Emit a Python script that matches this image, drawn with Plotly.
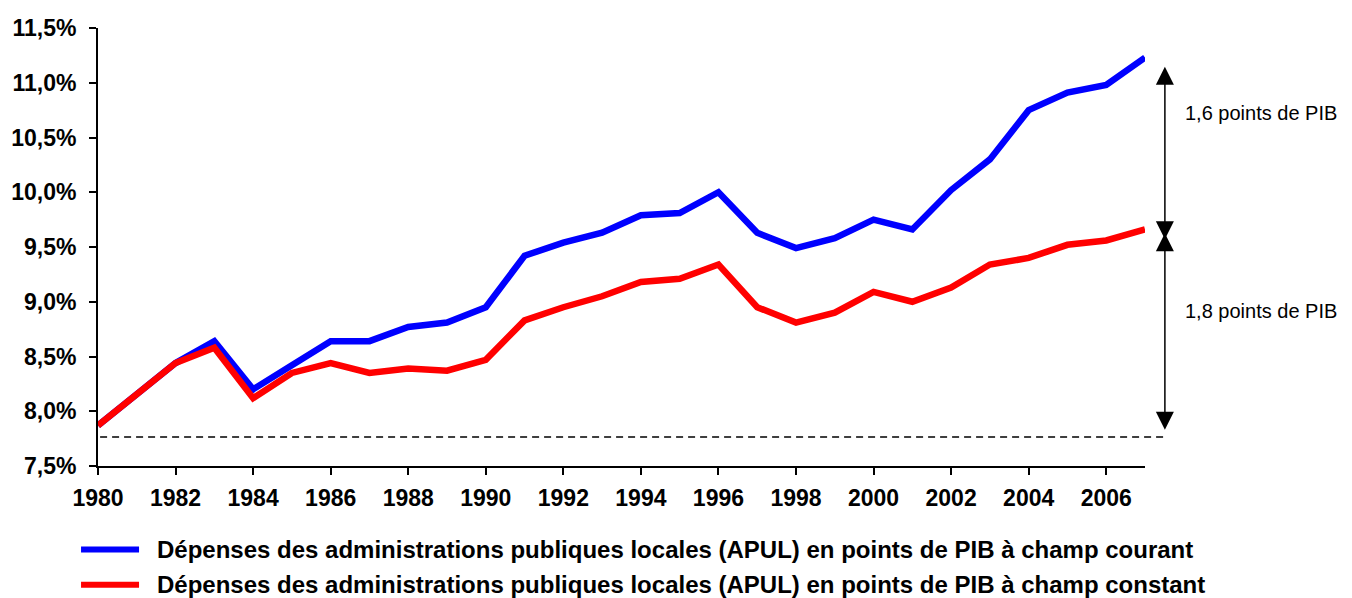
import plotly.graph_objects as go

years = list(range(1980, 2008))
courant = [7.87, 8.16, 8.44, 8.64, 8.20, 8.42, 8.64, 8.64, 8.77, 8.81,
           8.95, 9.42, 9.54, 9.63, 9.79, 9.81, 10.00, 9.63, 9.49, 9.58,
           9.75, 9.66, 10.02, 10.30, 10.75, 10.91, 10.98, 11.23]
constant = [7.87, 8.16, 8.44, 8.58, 8.12, 8.35, 8.44, 8.35, 8.39, 8.37,
            8.47, 8.83, 8.95, 9.05, 9.18, 9.21, 9.34, 8.95, 8.81, 8.90,
            9.09, 9.00, 9.13, 9.34, 9.40, 9.52, 9.56, 9.66]
series_names = [
    "Dépenses des administrations publiques locales (APUL) en points de PIB à champ courant",
    "Dépenses des administrations publiques locales (APUL) en points de PIB à champ constant",
]
series_colors = ["#0000FF", "#FF0000"]
x_ticks = list(range(1980, 2007, 2))
y_ticks = [7.5, 8.0, 8.5, 9.0, 9.5, 10.0, 10.5, 11.0, 11.5]
y_tick_text = ["7,5%", "8,0%", "8,5%", "9,0%", "9,5%", "10,0%", "10,5%", "11,0%", "11,5%"]
baseline = 7.765
gap_labels = ["1,6 points de PIB", "1,8 points de PIB"]
# arrow extents (y data values)
arrow_top = [11.16, 9.64]
arrow_bottom = [9.57, 7.83]
label_y = [10.72, 8.92]

FONT = "Liberation Sans, Arial, sans-serif"

fig = go.Figure()
for vals, name, col in zip([courant, constant], series_names, series_colors):
    fig.add_trace(go.Scatter(x=years, y=vals, mode="lines", name=name,
                             line=dict(color=col, width=6.5),
                             cliponaxis=False, showlegend=False))

# dashed reference line
fig.add_shape(type="line", xref="paper", yref="y", x0=0.002, x1=1.019,
              y0=baseline, y1=baseline,
              line=dict(color="black", width=1.5, dash="7px,5px"))

# double-headed arrows
for (ya, yb) in zip(arrow_top, arrow_bottom):
    fig.add_annotation(xref="paper", yref="y", x=1.019, y=yb,
                       axref="pixel", ayref="y", ax=0, ay=ya,
                       text="", showarrow=True, arrowhead=2, startarrowhead=2,
                       arrowside="end+start", arrowsize=2.4, startarrowsize=2.4,
                       arrowwidth=1.5, arrowcolor="black", standoff=0, startstandoff=0)

for txt, yy in zip(gap_labels, label_y):
    fig.add_annotation(xref="paper", yref="y", x=1.036, y=yy, text=txt,
                       showarrow=False, xanchor="left", yanchor="middle",
                       font=dict(family=FONT, size=20, color="black"))

# manual legend
leg_y = [-0.1905, -0.2714]
for name, col, ly in zip(series_names, series_colors, leg_y):
    fig.add_shape(type="line", xref="paper", yref="paper", x0=-0.0162, x1=0.0392,
                  y0=ly, y1=ly, line=dict(color=col, width=6))
    fig.add_annotation(xref="paper", yref="paper", x=0.0544, y=ly, text="<b>%s</b>" % name,
                       showarrow=False, xanchor="left", yanchor="middle",
                       font=dict(family=FONT, size=24, color="black"))

# page body has an 8px margin: shift the figure accordingly
fig.update_layout(
    width=1344, height=590,
    margin=dict(l=90, r=207, t=20, b=132, autoexpand=False),
    paper_bgcolor="white", plot_bgcolor="white",
    font=dict(family=FONT, color="black"),
)
fig.update_xaxes(range=[1980, 2007], tickvals=x_ticks, ticks="outside", ticklen=7,
                 tickwidth=2, tickcolor="black", showline=True, linecolor="black",
                 linewidth=2, showgrid=False, zeroline=False, ticklabelstandoff=3,
                 automargin=False,
                 tickfont=dict(family=FONT, size=23, color="black", weight="bold"))
fig.update_yaxes(range=[7.5, 11.5], tickvals=y_ticks, ticktext=y_tick_text,
                 ticks="outside", ticklen=7, tickwidth=2, tickcolor="black",
                 showline=True, linecolor="black", linewidth=2, showgrid=False,
                 zeroline=False, ticklabelstandoff=8, automargin=False,
                 tickfont=dict(family=FONT, size=23, color="black", weight="bold"))

fig.write_html("out.html")
